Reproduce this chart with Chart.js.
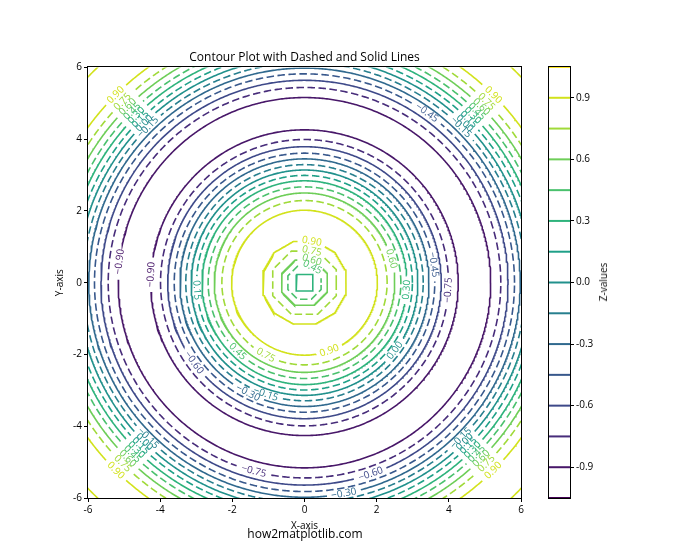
<!DOCTYPE html>
<html>
<head>
<meta charset="utf-8">
<script src="https://cdn.jsdelivr.net/npm/chart.js@4.4.0/dist/chart.umd.min.js"></script>
<style>
  body { margin: 0; background: #fff; }
  #wrap { position: relative; width: 700px; height: 560px; font-family: "Open Sans", sans-serif; }
  canvas { position: absolute; top: 0; }
  #main { left: 0; }
  #cbar { left: 500px; }
  .txt { position: absolute; color: #000; white-space: nowrap; line-height: 1; transform: translate(-50%, -50%); }
  #zlabel { left: 603px; top: 282px; font-size: 10px; transform: translate(-50%, -50%) rotate(-90deg); }
  #site { left: 305px; top: 534px; font-size: 12px; }
</style>
</head>
<body>
<div id="wrap">
  <canvas id="main" width="700" height="560"></canvas>
  <canvas id="cbar" width="200" height="560"></canvas>
  <div class="txt" id="zlabel">Z-values</div>
  <div class="txt" id="site">how2matplotlib.com</div>
</div>
<script>
// contour levels = colorbar lines
var levels = [-1.05, -0.90, -0.75, -0.60, -0.45, -0.30, -0.15, 0.00, 0.15, 0.30, 0.45, 0.60, 0.75, 0.90, 1.05];
var levelColors = ['#440154', '#481769', '#472c7a', '#3e4989', '#38588c', '#30698e', '#277f8e', '#21918c',
                   '#1fa088', '#2eb37c', '#4ac16d', '#6ece58', '#a0da39', '#d2e21b', '#fde725'];

// rings (level, radius)
var ringLevels = [0.90, 0.90, 0.90, 0.90, 0.75, 0.75, 0.75, 0.60, 0.60, 0.60, 0.45, 0.45, 0.45, 0.30, 0.30, 0.30,
                  0.15, 0.15, 0.00, 0.00, -0.15, -0.15, -0.30, -0.30, -0.45, -0.45, -0.60, -0.60, -0.75, -0.75, -0.90, -0.90];
var ringRadii = [1.15, 2.02, 7.40, 8.30, 0.88, 2.29, 7.13, 0.63, 2.50, 6.93, 0.46, 2.67, 6.75, 0.23, 2.84, 6.59,
                 2.99, 6.43, 3.14, 6.28, 3.29, 6.13, 3.45, 5.98, 3.61, 5.82, 3.79, 5.64, 3.99, 5.44, 4.26, 5.16];

// inline contour labels: level, ring radius, angle (deg)
var labelLevels = [0.90, 0.75, 0.60, 0.45, 0.60, 0.30, -0.45, -0.75, -0.90, -0.90, 0.15, 0.45, 0.75, 0.90,
                   -0.60, -0.30, -0.15, 0.00, -0.75, -0.60, -0.30, -0.45];
var labelRadii = [1.15, 0.88, 0.63, 0.46, 2.50, 2.84, 3.61, 3.99, 5.16, 4.26, 2.99, 2.67, 2.29, 2.02,
                  3.79, 3.45, 3.29, 3.14, 5.44, 5.64, 5.98, 5.82];
var labelAngles = [80, 77, 72, 63, 15.5, -4, 8, -3, 173.5, 177, 184, 226, 242, 290,
                   216, 243, 251, 323, 255, 289, 280.5, 54.4];
// the rings cut by the frame get a label in every corner
var cornerLevels = [0.90, 0.75, 0.60, 0.45, 0.30, 0.15, 0.00, -0.15];
var cornerRadii = [7.40, 7.13, 6.93, 6.75, 6.59, 6.43, 6.28, 6.13];
var cornerAngles = [45, 135, 225, 315];

var xTicks = [-6, -4, -2, 0, 2, 4, 6];
var yTicks = [-6, -4, -2, 0, 2, 4, 6];
var cbarTicks = [-0.9, -0.6, -0.3, 0.0, 0.3, 0.6, 0.9];

cornerAngles.forEach(function (a) {
    cornerLevels.forEach(function (lv, k) {
        labelLevels.push(lv); labelRadii.push(cornerRadii[k]); labelAngles.push(a);
    });
});

Chart.defaults.font.family = '"Open Sans", sans-serif';
Chart.defaults.color = '#000';

var ppu = (700 - 50 - 38 - 179) / 12;   // approx px per unit, only for the label gaps
var labelFont = '10px "Open Sans"';
var mctx = document.createElement('canvas').getContext('2d');
mctx.font = labelFont;

function levelIndex(lv) {
    return levels.findIndex(function (v) { return Math.abs(v - lv) < 1e-6; });
}
function fmt(lv) {
    return (lv < 0 ? '\u2212' : '') + Math.abs(lv).toFixed(2);
}
// small rings are polygons on the coarse grid
function sides(r) {
    if (r < 0.3) return 4;
    if (r < 1.0) return 8;
    if (r < 1.3) return 12;
    return 0;
}
function ringR(r, t) {
    var n = sides(r);
    if (!n) return r;
    var step = 2 * Math.PI / n, off = Math.PI / n;
    var u = ((((t - off) % step) + step) % step) - step / 2;
    return r / Math.cos(u);
}

function ringPoints(lv, r) {
    var gaps = [];
    labelLevels.forEach(function (l, k) {
        if (Math.abs(l - lv) < 1e-6 && labelRadii[k] === r) {
            var w = mctx.measureText(fmt(l)).width;
            gaps.push([labelAngles[k] * Math.PI / 180, (w / 2 + 4) / (r * ppu)]);
        }
    });
    var step = Math.min(0.5 * Math.PI / 180, 1.5 / (r * ppu));
    var n = Math.ceil(2 * Math.PI / step);
    var pts = [];
    for (var i = 0; i <= n; i++) {
        var t = i * 2 * Math.PI / n;
        var inGap = gaps.some(function (g) {
            var d = Math.abs((((t - g[0] + Math.PI) % (2 * Math.PI)) + 2 * Math.PI) % (2 * Math.PI) - Math.PI);
            return d < g[1];
        });
        if (inGap) {
            if (pts.length && pts[pts.length - 1].y !== null) pts.push({ x: 0, y: null });
            continue;
        }
        var rr = ringR(r, t);
        pts.push({ x: rr * Math.cos(t), y: rr * Math.sin(t) });
    }
    return pts;
}

var ringSets = ringLevels.map(function (lv, k) {
    var idx = levelIndex(lv);
    return {
        data: ringPoints(lv, ringRadii[k]),
        showLine: true,
        spanGaps: false,
        borderColor: levelColors[idx],
        borderWidth: 1.6,
        borderDash: idx % 2 === 1 ? [] : [7.5, 3.5],
        pointRadius: 0,
        tension: 0
    };
});

var framePlugin = {
    id: 'frame',
    afterDatasetsDraw: function (chart) {
        var a = chart.chartArea, ctx = chart.ctx;
        ctx.save();
        ctx.strokeStyle = '#000';
        ctx.lineWidth = 1;
        ctx.strokeRect(Math.round(a.left) - 0.5, Math.round(a.top) - 0.5, Math.round(a.right - a.left) + 1, Math.round(a.bottom - a.top) + 1);
        ctx.restore();
    }
};

var clabelPlugin = {
    id: 'clabels',
    afterDatasetsDraw: function (chart) {
        var ctx = chart.ctx, xs = chart.scales.x, ys = chart.scales.y;
        ctx.save();
        ctx.font = labelFont;
        ctx.textAlign = 'center';
        ctx.textBaseline = 'middle';
        labelLevels.forEach(function (lv, k) {
            var t = labelAngles[k] * Math.PI / 180;
            var rr = ringR(labelRadii[k], t);
            var px = xs.getPixelForValue(rr * Math.cos(t));
            var py = ys.getPixelForValue(rr * Math.sin(t));
            var rot = labelAngles[k] + 90;
            while (rot > 90) rot -= 180;
            while (rot <= -90) rot += 180;
            ctx.save();
            ctx.translate(px, py);
            ctx.rotate(-rot * Math.PI / 180);
            ctx.fillStyle = levelColors[levelIndex(lv)];
            ctx.fillText(fmt(lv), 0, 0);
            ctx.restore();
        });
        ctx.restore();
    }
};

function axis(ticks, fit, title) {
    return {
        type: 'linear', min: -6, max: 6,
        afterBuildTicks: function (s) { s.ticks = ticks.map(function (v) { return { value: v }; }); },
        afterFit: fit,
        grid: { drawOnChartArea: false, tickLength: 4, color: '#000' },
        border: { display: false },
        ticks: { padding: 2, font: { size: 10 }, maxRotation: 0 },
        title: { display: true, text: title, font: { size: 10 } }
    };
}

new Chart(document.getElementById('main'), {
    type: 'scatter',
    data: { datasets: ringSets },
    options: {
        responsive: false,
        animation: false,
        events: [],
        layout: { padding: { left: 50, right: 179, top: 50, bottom: 24 } },
        plugins: {
            legend: { display: false },
            tooltip: { enabled: false },
            title: {
                display: true, fullSize: false,
                text: 'Contour Plot with Dashed and Solid Lines',
                font: { size: 12, weight: 'normal' },
                padding: { top: 0, bottom: 3 }
            }
        },
        scales: {
            x: axis(xTicks, function (s) { s.height = 38; }, 'X-axis'),
            y: axis(yTicks, function (s) { s.width = 38; }, 'Y-axis')
        }
    },
    plugins: [clabelPlugin, framePlugin]
});

// colorbar
new Chart(document.getElementById('cbar'), {
    type: 'scatter',
    data: {
        datasets: levels.map(function (lv, i) {
            return {
                data: [{ x: 0, y: lv }, { x: 1, y: lv }],
                showLine: true, borderColor: levelColors[i], borderWidth: 2,
                pointRadius: 0, clip: false
            };
        })
    },
    options: {
        responsive: false,
        animation: false,
        events: [],
        layout: { padding: { left: 49, right: 100, top: 67, bottom: 62 } },
        plugins: { legend: { display: false }, tooltip: { enabled: false } },
        scales: {
            x: { type: 'linear', min: 0, max: 1, display: false },
            y: {
                type: 'linear', position: 'right', min: -1.05, max: 1.05,
                afterBuildTicks: function (s) { s.ticks = cbarTicks.map(function (v) { return { value: v }; }); },
                afterFit: function (s) { s.width = 30; },
                grid: { drawOnChartArea: false, tickLength: 4, color: '#000' },
                border: { display: false },
                ticks: { padding: 2, font: { size: 10 }, callback: function (v) { return v.toFixed(1); } }
            }
        }
    },
    plugins: [framePlugin]
});
</script>
</body>
</html>
